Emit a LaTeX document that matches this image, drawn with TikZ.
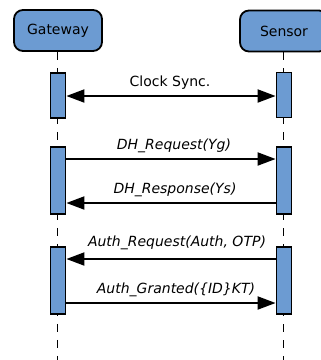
\documentclass[tikz,border=0pt]{standalone}
\usepackage{fontspec}
\setmainfont{DejaVu Sans}
\usetikzlibrary{arrows.meta}
\definecolor{actfill}{RGB}{108,155,210}
\begin{document}
\begin{tikzpicture}[x=1pt,y=-1pt,
  actor/.style={draw=black, line width=1.8pt, fill=actfill, rounded corners=9pt,
    minimum width=88pt, minimum height=41pt, inner sep=0pt, font=\fontsize{14}{16}\selectfont},
  lifeline/.style={draw=black, line width=1pt, dash pattern=on 8pt off 8pt},
  bar/.style={draw=black, line width=1.8pt, fill=actfill, minimum width=15pt, inner sep=0pt},
  msg/.style={draw=black, line width=2pt, -{Triangle[length=18pt,width=13pt]}},
  biMsg/.style={draw=black, line width=2pt, {Triangle[length=18pt,width=13pt]}-{Triangle[length=18pt,width=13pt]}},
  lbl/.style={font=\fontsize{14}{16}\selectfont\itshape, inner sep=0pt},
  lblup/.style={font=\fontsize{14}{16}\selectfont, inner sep=0pt}]
\useasboundingbox (0,0) rectangle (321,360);
\begin{scope}
\clip (0,0) rectangle (321,360);
% participants and their lifelines
\coordinate (gEnd) at (58,362);
\coordinate (sEnd) at (284,362);
\node[actor] (gw) at (58,30.5) {Gateway};
\node[actor] (sn) at (284,31) {Sensor};
\draw[lifeline] (gw.south) -- (gEnd);
\draw[lifeline] (sn.south) -- (sEnd);
% activation bars
\node[bar, minimum height=45pt] (g1) at (58,95.5) {};
\node[bar, minimum height=45pt] (s1) at (284,95) {};
\node[bar, minimum height=67pt] (g2) at (58,180.5) {};
\node[bar, minimum height=67pt] (s2) at (284,180.5) {};
\node[bar, minimum height=67pt] (g3) at (58,280.5) {};
\node[bar, minimum height=67pt] (s3) at (284,280.5) {};
\end{scope}
% messages
\draw[biMsg] (g1.east |- 0,96) -- (s1.west |- 0,96);
\node[lblup] (m1) at (170,83) {Clock Sync.};
\draw[msg] (g2.east |- 0,159) -- (s2.west |- 0,159);
\node[lbl] (m2) at (174,146) {DH\_Request(Yg)};
\draw[msg] (s2.west |- 0,203) -- (g2.east |- 0,203);
\node[lbl] (m3) at (175,190) {DH\_Response(Ys)};
\draw[msg] (s3.west |- 0,259) -- (g3.east |- 0,259);
\node[lbl] (m4) at (177,243) {Auth\_Request(Auth, OTP)};
\draw[msg] (g3.east |- 0,303) -- (s3.west |- 0,303);
\node[lbl] (m5) at (176,290) {Auth\_Granted(\{ID\}KT)};
\end{tikzpicture}
\end{document}
